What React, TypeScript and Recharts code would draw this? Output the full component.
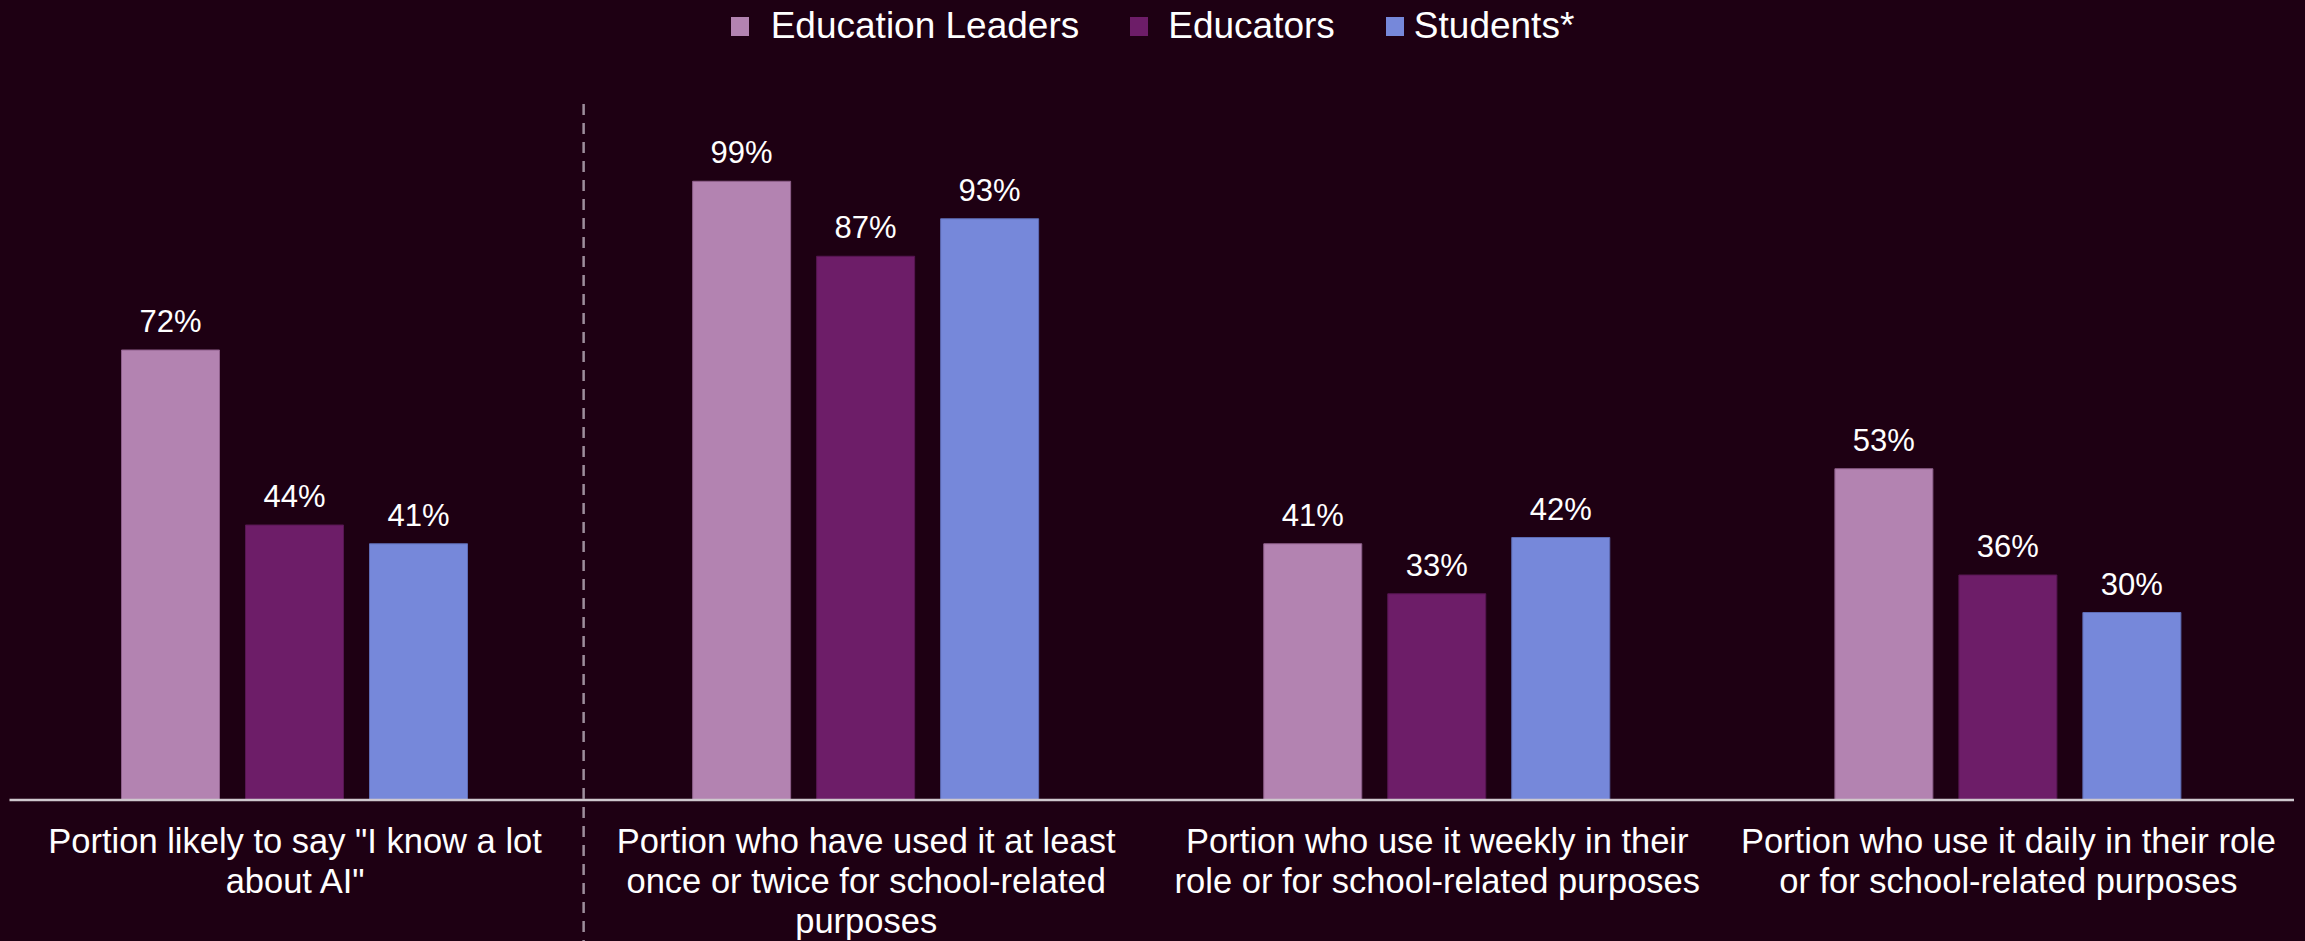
import React from 'react';
import { BarChart, Bar, XAxis, YAxis, Legend, LabelList } from 'recharts';

const categoryLabels: string[][] = [
  ['Portion likely to say "I know a lot', 'about AI"'],
  ['Portion who have used it at least', 'once or twice for school-related', 'purposes'],
  ['Portion who use it weekly in their', 'role or for school-related purposes'],
  ['Portion who use it daily in their role', 'or for school-related purposes'],
];
const categories = categoryLabels.map((l) => l.join(' '));

const leaders = [72, 99, 41, 53];
const educators = [44, 87, 33, 36];
const students = [41, 93, 42, 30];

const seriesNames = ['Education Leaders', 'Educators', 'Students*'];
const seriesKeys = ['leaders', 'educators', 'students'];
const seriesColors = ['#B383B1', '#6D1D68', '#7688DA'];
const seriesStrokes = ['#8E5F8B', '#561651', '#5E6CB5'];

// the dashed divider sits after this category
const dividerAfterIndex = 0;

const data = categories.map((c, i) => ({
  category: c,
  leaders: leaders[i],
  educators: educators[i],
  students: students[i],
}));

const BG = '#1E0013';
const FONT = '"Liberation Sans", Arial, sans-serif';

const CategoryTick = (props: any) => {
  const { x, y, payload, index } = props;
  const idx = categories.indexOf(payload.value);
  const lines = categoryLabels[idx] || [String(payload.value)];
  const half = payload && typeof payload.offset === 'number' ? payload.offset : 0;
  return (
    <g>
      {index === dividerAfterIndex && half > 0 && (
        <line
          x1={x + half + 3}
          x2={x + half + 3}
          y1={y - 696}
          y2={y + 141}
          stroke="#9E8E9C"
          strokeWidth={2.5}
          strokeDasharray="11 8"
        />
      )}
      <text x={x} y={y} textAnchor="middle" fill="#FFFFFF" fontSize={34.5} fontFamily={FONT}>
        {lines.map((ln, i) => (
          <tspan key={i} x={x} dy={i === 0 ? 53 : 40}>
            {ln}
          </tspan>
        ))}
      </text>
    </g>
  );
};

const textGaps = [22, 20, 10];

const LegendContent = () => (
  <div
    style={{
      display: 'flex',
      justifyContent: 'center',
      alignItems: 'center',
      paddingTop: 5,
      fontFamily: FONT,
      fontSize: 37,
      color: '#FFFFFF',
      lineHeight: 'normal',
    }}
  >
    {seriesNames.map((name, i) => (
      <div
        key={name}
        style={{ display: 'flex', alignItems: 'center', marginLeft: i === 0 ? 0 : 51 }}
      >
        <span
          style={{
            display: 'inline-block',
            width: 18,
            height: 19,
            background: seriesColors[i],
            marginRight: textGaps[i],
          }}
        />
        <span>{name}</span>
      </div>
    ))}
  </div>
);

const pct = (v: any) => `${v}%`;

export default function App() {
  return (
    <div style={{ width: 2305, height: 941, background: BG, position: 'relative' }}>
      <style>{`body{margin:0;background:${BG};}`}</style>
      <BarChart
        width={2305}
        height={941}
        data={data}
        margin={{ top: 115, right: 11, bottom: 0, left: 9.5 }}
        barCategoryGap={112}
        barGap={26}
      >
        <Legend
          verticalAlign="top"
          align="center"
          content={<LegendContent />}
          wrapperStyle={{ top: 0, left: 0, width: 2305, height: 60 }}
        />
        <XAxis
          dataKey="category"
          height={141}
          interval={0}
          tickLine={false}
          tickSize={0}
          tickMargin={0}
          axisLine={{ stroke: '#CFC8CE', strokeWidth: 2.5 }}
          tick={<CategoryTick />}
        />
        <YAxis hide domain={[0, 100]} />
        {seriesKeys.map((k, i) => (
          <Bar
            key={k}
            dataKey={k}
            name={seriesNames[i]}
            fill={seriesColors[i]}
            stroke={seriesStrokes[i]}
            strokeWidth={1}
            isAnimationActive={false}
          >
            <LabelList
              dataKey={k}
              position="top"
              offset={18}
              formatter={pct}
              fill="#FFFFFF"
              fontSize={31}
              fontFamily={FONT}
            />
          </Bar>
        ))}
      </BarChart>
    </div>
  );
}
